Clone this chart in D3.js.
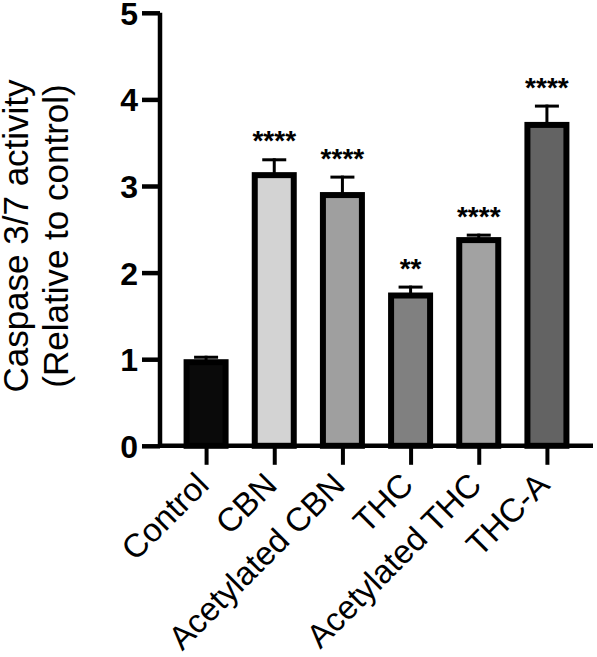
<!DOCTYPE html>
<html>
<head>
<meta charset="utf-8">
<script src="https://cdn.jsdelivr.net/npm/d3@7"></script>
<style>
  body { margin: 0; background: #fff; }
  text { font-family: "Liberation Sans", Arial, sans-serif; fill: #000; }
</style>
</head>
<body>
<div id="chart"></div>
<script>
// chart data
const groups = ["Control", "CBN", "Acetylated CBN", "THC", "Acetylated THC", "THC-A"];
const means = [1.0, 3.16, 2.93, 1.77, 2.41, 3.74];
const errors = [0.04, 0.16, 0.19, 0.08, 0.04, 0.20];
const stars = ["", "****", "****", "**", "****", "****"];
const fills = ["#0a0a0a", "#d3d3d3", "#9f9f9f", "#808080", "#a2a2a2", "#636363"];
const yTicks = [0, 1, 2, 3, 4, 5];

function drawChart() {
    const width = 597;
    const height = 657;
    const barWidth = 45;
    const border = 6;

    const svg = d3.select("#chart").append("svg")
        .attr("width", width)
        .attr("height", height);

    const x = d3.scalePoint()
        .domain(groups)
        .range([172, 581])
        .padding(0.5);

    const y = d3.scaleLinear()
        .domain([0, 5])
        .range([445.8, 12.8]);

    const data = groups.map((g, i) => ({
        name: g, mean: means[i], err: errors[i], star: stars[i], fill: fills[i]
    }));

    // error bars (upper only)
    const errG = svg.append("g").attr("class", "errors");
    errG.selectAll(".err-v")
        .data(data)
        .enter()
        .append("line")
        .attr("x1", d => x(d.name))
        .attr("x2", d => x(d.name))
        .attr("y1", d => y(d.mean) + 2)
        .attr("y2", d => y(d.mean + d.err))
        .attr("stroke", "#000")
        .attr("stroke-width", 3);

    errG.selectAll(".err-cap")
        .data(data)
        .enter()
        .append("line")
        .attr("x1", d => x(d.name) - 12)
        .attr("x2", d => x(d.name) + 12)
        .attr("y1", d => y(d.mean + d.err) + 1.5)
        .attr("y2", d => y(d.mean + d.err) + 1.5)
        .attr("stroke", "#000")
        .attr("stroke-width", 3);

    // bars, border drawn inside the outer edge
    svg.append("g").attr("class", "bars")
        .selectAll("rect")
        .data(data)
        .enter()
        .append("rect")
        .attr("x", d => x(d.name) - barWidth / 2 + border / 2)
        .attr("y", d => y(d.mean) + border / 2)
        .attr("width", barWidth - border)
        .attr("height", d => y(0) - y(d.mean) - border / 2)
        .attr("fill", d => d.fill)
        .attr("stroke", "#000")
        .attr("stroke-width", border);

    // significance stars
    svg.append("g").attr("class", "stars")
        .selectAll("text")
        .data(data)
        .enter()
        .append("text")
        .attr("x", d => x(d.name))
        .attr("y", d => y(d.mean + d.err) - 8)
        .attr("text-anchor", "middle")
        .style("font-size", "28px")
        .style("font-weight", "bold")
        .text(d => d.star);

    // y axis
    const yAxis = svg.append("g")
        .attr("transform", "translate(160,0)")
        .call(d3.axisLeft(y).tickValues(yTicks).tickFormat(d3.format("d"))
            .tickSize(18).tickPadding(4));
    yAxis.select(".domain")
        .attr("d", `M0,${y(5)}V${y(0) + 2}`)
        .attr("stroke-width", 4.5);
    yAxis.selectAll(".tick line").attr("stroke-width", 4.5);
    yAxis.selectAll(".tick text")
        .style("font-size", "32px")
        .style("font-weight", "bold")
        .attr("dy", "0.36em");

    // x axis
    const xAxis = svg.append("g")
        .attr("transform", `translate(0,${y(0)})`)
        .call(d3.axisBottom(x).tickSize(19).tickPadding(0));
    xAxis.select(".domain")
        .attr("d", "M158,0H593")
        .attr("stroke-width", 4.5);
    xAxis.selectAll(".tick line").attr("stroke-width", 4);
    xAxis.selectAll(".tick text")
        .attr("text-anchor", "end")
        .attr("dy", 0)
        .attr("y", 0)
        .attr("transform", "translate(4,41) rotate(-45)")
        .style("font-size", "33px");

    // y axis title
    const title = svg.append("text")
        .attr("transform", "translate(0,236) rotate(-90)")
        .attr("text-anchor", "middle")
        .style("font-size", "35px");
    title.append("tspan").attr("x", 0).attr("y", 28).text("Caspase 3/7 activity");
    title.append("tspan").attr("x", 0).attr("y", 68).text("(Relative to control)");
}

drawChart();
</script>
</body>
</html>
